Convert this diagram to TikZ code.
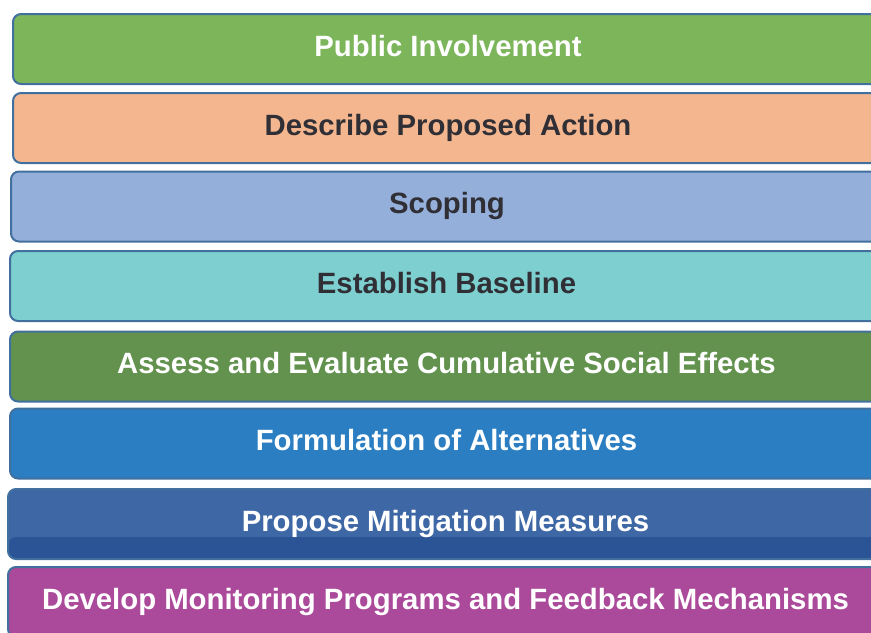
\documentclass[tikz,border=0pt]{standalone}
\usepackage{fontspec}
\setmainfont{Liberation Sans}
\usetikzlibrary{calc}

\definecolor{barline}{RGB}{65,112,159}
\definecolor{leafgreen}{RGB}{124,181,90}
\definecolor{peach}{RGB}{244,182,143}
\definecolor{lavender}{RGB}{149,175,219}
\definecolor{aqua}{RGB}{126,207,208}
\definecolor{mossgreen}{RGB}{98,146,78}
\definecolor{skyblue}{RGB}{42,126,193}
\definecolor{steelblue}{RGB}{62,103,165}
\definecolor{steelband}{RGB}{43,84,150}
\definecolor{plum}{RGB}{171,74,154}
\definecolor{inktext}{RGB}{47,47,53}

\tikzset{every picture/.style={line width=0.75pt}}
\tikzset{
    stage/.style={draw=barline, line width=1.5pt, rounded corners=6pt, anchor=west,
        minimum height=52.5pt, inner sep=0pt, text height=16pt, text depth=5pt,
        font=\fontsize{22}{26}\selectfont\bfseries},
    lightstage/.style={stage, text=inktext},
    darkstage/.style={stage, text=white},
}

\begin{document}
\begin{tikzpicture}[x=0.75pt,y=0.75pt,yscale=-1,xscale=1]
        %page frame, bars run off the right edge
        \useasboundingbox (0,0) rectangle (871,632);
        \clip (0,0) rectangle (871,632);

        % Stage bars, top to bottom
        \node [darkstage, fill=leafgreen, minimum width=652.5pt] (pubinv) at (12,49) {Public Involvement};
        \node [lightstage, fill=peach, minimum width=652.5pt] (propact) at (12,128) {Describe Proposed Action};
        \node [lightstage, fill=lavender, minimum width=654pt] (scoping) at (10,206.5) {Scoping};
        \node [lightstage, fill=aqua, minimum width=654.75pt] (baseline) at (9,286) {Establish Baseline};
        \node [darkstage, fill=mossgreen, minimum width=654.75pt] (assess) at (9,366.5) {Assess and Evaluate Cumulative Social Effects};
        \node [darkstage, fill=skyblue, minimum width=654.75pt] (altern) at (9,443.5) {Formulation of Alternatives};
        % darker strip along the lower part of this bar
        \node [darkstage, fill=steelblue, minimum width=656.25pt,
            path picture={\fill[steelband] (path picture bounding box.south west) rectangle ([yshift=16.5pt]path picture bounding box.south east);}]
            (mitig) at (7,524) {Propose Mitigation Measures};
        \node [darkstage, fill=plum, minimum width=656.25pt] (monitor) at (7,602) {Develop Monitoring Programs and Feedback Mechanisms};
\end{tikzpicture}
\end{document}
